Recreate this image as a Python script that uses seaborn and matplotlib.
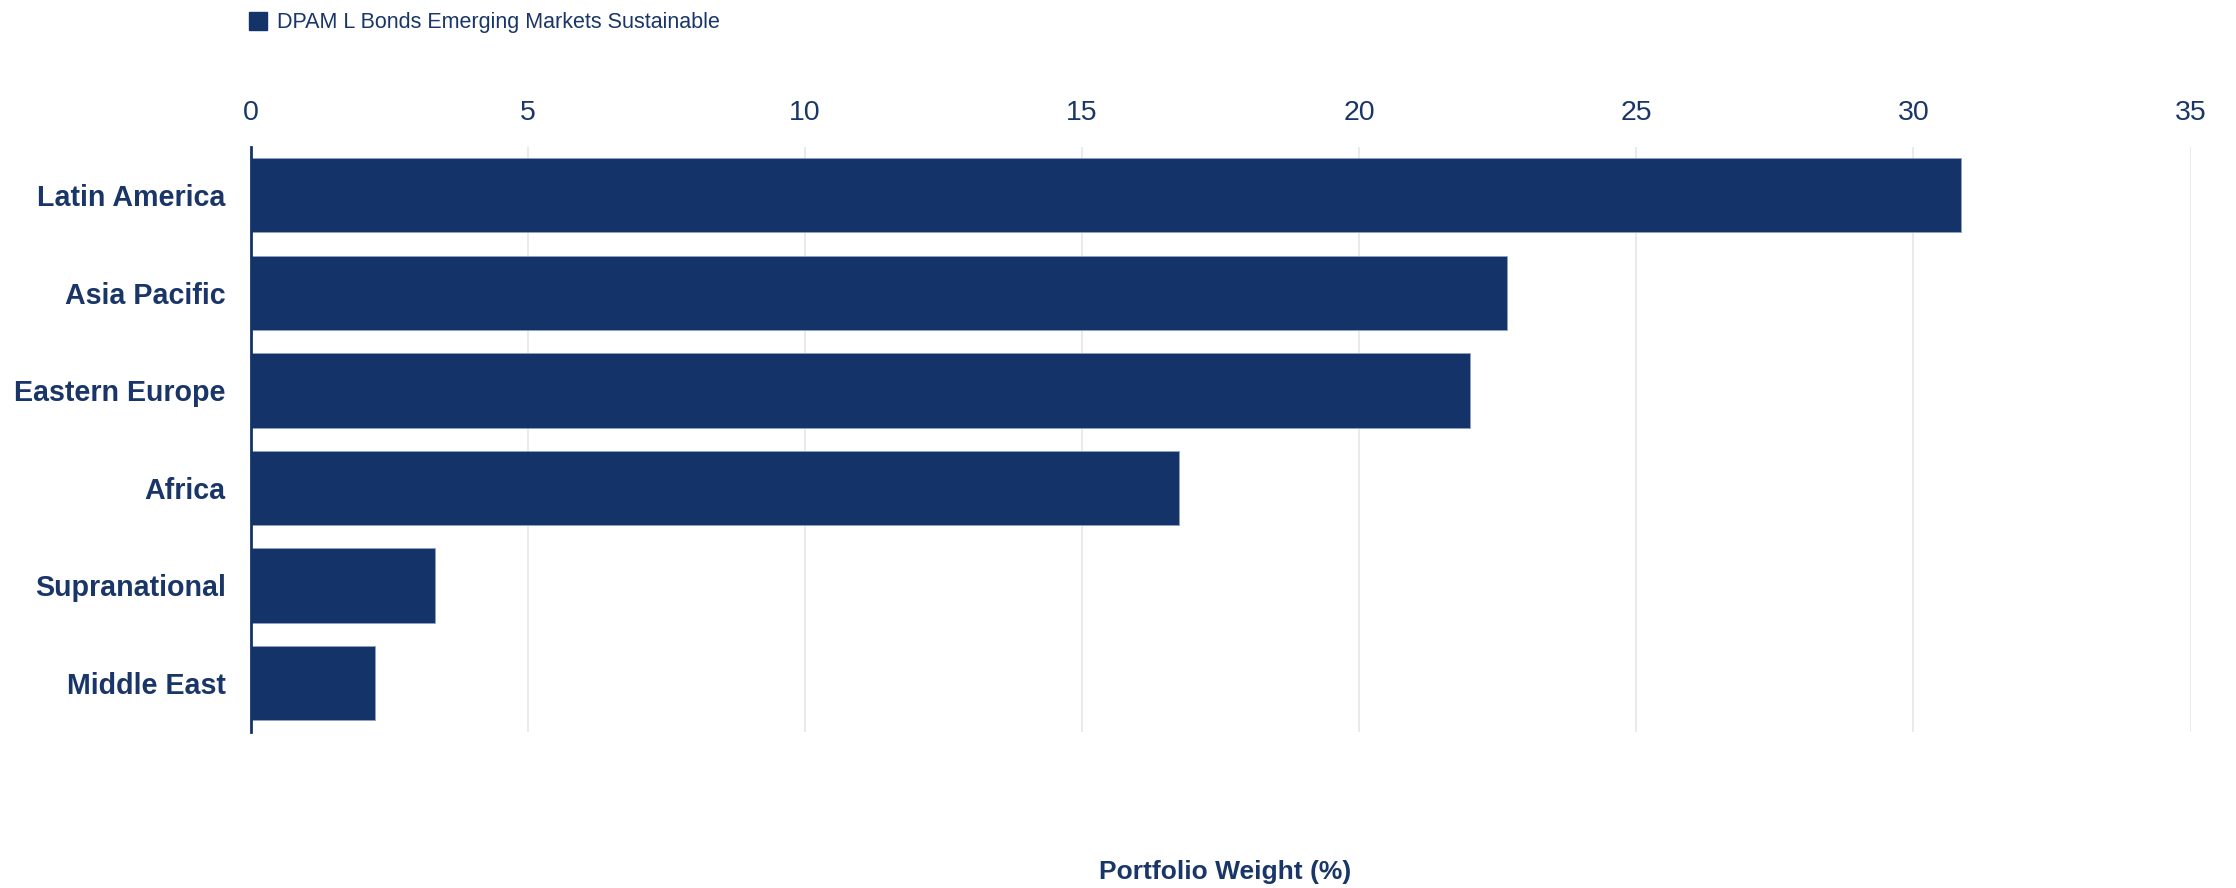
import matplotlib
matplotlib.use("Agg")
import matplotlib.pyplot as plt
import seaborn as sns
import pandas as pd
from matplotlib.patches import Patch

regions = ["Latin America", "Asia Pacific", "Eastern Europe", "Africa", "Supranational", "Middle East"]
weights = [30.85, 22.67, 22.0, 16.75, 3.33, 2.25]
series_name = "DPAM L Bonds Emerging Markets Sustainable"
x_ticks = [0, 5, 10, 15, 20, 25, 30, 35]
x_label = "Portfolio Weight (%)"

NAVY = "#143368"
TEXT = "#1a3668"

sns.set_theme(style="white")
plt.rcParams["font.family"] = ["Liberation Sans", "DejaVu Sans"]

df = pd.DataFrame({"region": regions, "weight": weights})

fig = plt.figure(figsize=(22.36, 8.88), dpi=100)
ax = fig.add_axes([0.1121, 0.1760, 0.8676, 0.6588])

sns.barplot(data=df, y="region", x="weight", orient="h", color=NAVY,
            width=0.76, saturation=1, edgecolor="#8fa2c6", linewidth=0.6, ax=ax)

ax.set_xlim(0, 35)
ax.set_ylim(len(regions) - 0.5, -0.5)
ax.set_xticks(x_ticks)
ax.set_xticklabels([str(t) for t in x_ticks])
ax.xaxis.tick_top()
ax.tick_params(axis="x", which="both", length=0, pad=15, labelsize=20.5, labelcolor=TEXT)
ax.tick_params(axis="y", which="both", length=0, pad=18, labelsize=20.6, labelcolor=TEXT)
for lbl in ax.get_yticklabels():
    lbl.set_fontweight("bold")

ax.grid(axis="x", color="#e4e6ea", linewidth=1.2)
ax.grid(axis="y", visible=False)
ax.set_axisbelow(True)

for side in ["top", "right", "bottom"]:
    ax.spines[side].set_visible(False)
ax.spines["left"].set_color(NAVY)
ax.spines["left"].set_linewidth(2)

ax.set_ylabel("")
ax.set_xlabel("")
fig.text(0.548, 1 - 872 / 888, x_label, ha="center", va="center",
         fontsize=19, fontweight="bold", color=TEXT)

handles = [Patch(facecolor=NAVY, edgecolor=NAVY, label=series_name)]
fig.legend(handles=handles, loc="upper left", bbox_to_anchor=(0.1045, 1.003),
           frameon=False, fontsize=15.5, labelcolor=TEXT, handlelength=0.85,
           handleheight=0.85, handletextpad=0.45, borderaxespad=0.3)

fig.savefig("out.png", dpi=100)
